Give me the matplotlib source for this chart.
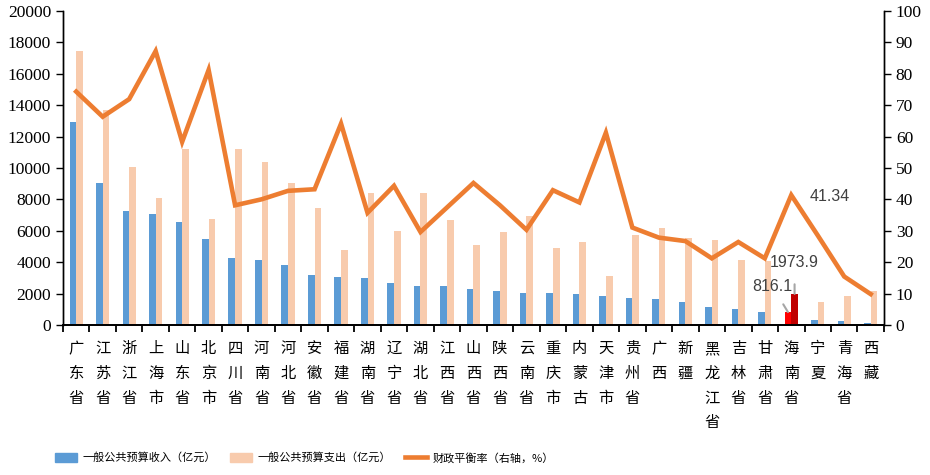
"""Provincial general public budget revenue/expenditure and fiscal balance ratio."""

import matplotlib
matplotlib.use('Agg')
import matplotlib.pyplot as plt
import numpy as np

plt.rcParams['font.family'] = ['Noto Sans CJK SC', 'DejaVu Sans']

provinces = ['广东省', '江苏省', '浙江省', '上海市', '山东省', '北京市', '四川省', '河南省',
             '河北省', '安徽省', '福建省', '湖南省', '辽宁省', '湖北省', '江西省', '山西省',
             '陕西省', '云南省', '重庆市', '内蒙古', '天津市', '贵州省', '广西', '新疆',
             '黑龙江省', '吉林省', '甘肃省', '海南省', '宁夏', '青海省', '西藏']

revenue = [12910, 9020, 7230, 7040, 6530, 5450, 4230, 4110,
           3790, 3150, 3020, 2960, 2640, 2450, 2450, 2260,
           2190, 2060, 2060, 2000, 1870, 1740, 1680, 1430,
           1110, 1040, 850, 816.1, 340, 280, 150]

expenditure = [17450, 13680, 10040, 8060, 11190, 6720, 11190, 10360,
               9020, 7430, 4740, 8380, 5960, 8380, 6660, 5060,
               5890, 6910, 4870, 5260, 3090, 5700, 6150, 5510,
               5380, 4110, 4050, 1973.9, 1430, 1870, 2190]

balance = [74.3, 66.3, 71.9, 87.2, 58.3, 81.2, 38.1, 40.0,
           42.7, 43.2, 64.1, 35.7, 44.3, 29.6, 37.4, 45.2,
           38.1, 30.3, 42.9, 39.0, 61.2, 31.0, 27.8, 26.7,
           21.2, 26.4, 21.2, 41.34, 28.5, 15.4, 9.8]

left_ticks = np.arange(0, 20001, 2000)
right_ticks = np.arange(0, 101, 10)

hainan = provinces.index('海南省')

blue = '#5B9BD5'
peach = '#F8CBAD'
orange = '#ED7D31'
serif = 'Liberation Serif'
label_gray = '#404040'

fig = plt.figure(figsize=(9.3, 4.75), dpi=100)
ax1 = fig.add_axes([0.0677, 0.316, 0.8828, 0.661])
ax2 = ax1.twinx()

x = np.arange(len(provinces))
w = 0.25
rev_colors = [blue] * len(x)
exp_colors = [peach] * len(x)
rev_colors[hainan] = '#FF0000'
exp_colors[hainan] = '#C00000'

b1 = ax1.bar(x - w, revenue, width=w, align='edge', color=rev_colors,
             label='一般公共预算收入（亿元）')
b2 = ax1.bar(x, expenditure, width=w, align='edge', color=exp_colors,
             label='一般公共预算支出（亿元）')
l1, = ax2.plot(x, balance, color=orange, lw=3.3, solid_joinstyle='miter',
               label='财政平衡率（右轴，%）')

ax1.set_xlim(-0.5, len(x) - 0.5)
ax1.set_ylim(0, 20000)
ax1.set_yticks(left_ticks)
ax1.set_yticklabels([str(v) for v in left_ticks], fontfamily=serif, fontsize=12.5)
ax2.set_ylim(0, 100)
ax2.set_yticks(right_ticks)
ax2.set_yticklabels([str(v) for v in right_ticks], fontfamily=serif, fontsize=12.5)

ax1.set_xticks(np.arange(len(x) + 1) - 0.5)
ax1.set_xticklabels([])
ax1.tick_params(axis='x', length=5, width=1.3, direction='out')
for i, name in enumerate(provinces):
    ax1.text(i, -0.048, '\n'.join(name), transform=ax1.get_xaxis_transform(),
             ha='center', va='top', fontsize=11, linespacing=1.6)

ax1.tick_params(axis='y', length=5, width=1)
ax2.tick_params(axis='y', length=5, width=1)

for ax in (ax1, ax2):
    ax.spines['top'].set_visible(False)
    ax.spines['left'].set_linewidth(1)
    ax.spines['right'].set_linewidth(1)
    ax.spines['bottom'].set_linewidth(1.3)

# annotations for Hainan
ax1.annotate(f'{revenue[hainan]:.1f}', xy=(hainan - w / 2, revenue[hainan]),
             xytext=(hainan - 0.7, 2420), ha='center', va='center',
             fontsize=11.5, color=label_gray, family='Liberation Sans',
             arrowprops=dict(arrowstyle='-', color='#A6A6A6', lw=1.5,
                             shrinkA=6, shrinkB=0))
ax1.annotate(f'{expenditure[hainan]:.1f}', xy=(hainan + w / 2, expenditure[hainan]),
             xytext=(hainan + w / 2, 3950), ha='center', va='center',
             fontsize=11.5, color=label_gray, family='Liberation Sans',
             arrowprops=dict(arrowstyle='-', color='#A6A6A6', lw=1.5,
                             shrinkA=8, shrinkB=0))
ax2.text(hainan + 0.68, 40.8, f'{balance[hainan]:.2f}',
         ha='left', va='center', fontsize=11.5, color=label_gray, family='Liberation Sans')

fig.legend(handles=[b1, b2, l1], loc='center left', bbox_to_anchor=(0.059, 0.036),
           ncol=3, frameon=False, fontsize=8.0, handlelength=2.0, handleheight=1.0,
           columnspacing=1.3, handletextpad=0.45, borderpad=0, borderaxespad=0)
leg = fig.legends[0]
leg.legend_handles[0].set_color(blue)
leg.legend_handles[1].set_color(peach)

plt.savefig('out.png', dpi=100)
